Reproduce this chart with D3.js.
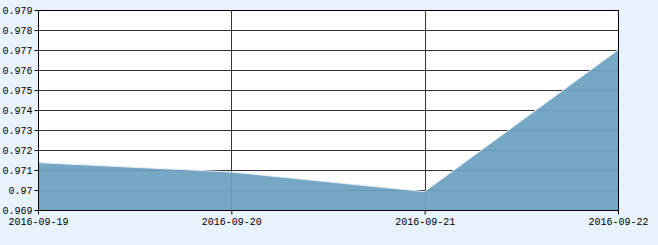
<!DOCTYPE html>
<html>
<head>
<meta charset="utf-8">
<script src="https://cdn.jsdelivr.net/npm/d3@7"></script>
<style>
  body { margin: 0; background: #e7f2fc; }
  svg text { font-family: "Liberation Mono", "DejaVu Sans Mono", monospace; font-size: 10px; fill: #000; }
</style>
</head>
<body>
<script>
const dates = ["2016-09-19", "2016-09-20", "2016-09-21", "2016-09-22"];
const values = [0.97137, 0.9709, 0.96992, 0.977];
const yTicks = [0.969, 0.97, 0.971, 0.972, 0.973, 0.974, 0.975, 0.976, 0.977, 0.978, 0.979];

ShowAreaChart();

function ShowAreaChart() {
    const width = 658;
    const height = 245;
    const margin = {top: 10, right: 40, bottom: 35, left: 38};
    const inner_w = width - margin.left - margin.right;
    const inner_h = height - margin.top - margin.bottom;

    const data = dates.map( (d, i) => ({date: d, value: values[i]}) );

    const svg = d3.select("body").append("svg")
        .attr("width", width)
        .attr("height", height);

    const g = svg.append("g")
        .attr("transform", `translate(${margin.left}, ${margin.top})`);

    const xscale = d3.scalePoint()
        .domain(dates)
        .range([0, inner_w]);

    const yscale = d3.scaleLinear()
        .domain([0.969, 0.979])
        .range([inner_h, 0]);

    // plot background
    g.append("rect")
        .attr("width", inner_w)
        .attr("height", inner_h)
        .attr("fill", "#fff");

    // grid lines
    g.selectAll(".hgrid")
        .data(yTicks)
        .enter()
        .append("line")
        .attr("x1", 0).attr("x2", inner_w)
        .attr("y1", d => Math.round(yscale(d)) + 0.5)
        .attr("y2", d => Math.round(yscale(d)) + 0.5)
        .attr("stroke", "#333");

    g.selectAll(".vgrid")
        .data(dates)
        .enter()
        .append("line")
        .attr("x1", d => Math.round(xscale(d)) + 0.5)
        .attr("x2", d => Math.round(xscale(d)) + 0.5)
        .attr("y1", 0).attr("y2", inner_h)
        .attr("stroke", "#333");

    // area
    const area = d3.area()
        .x(d => xscale(d.date))
        .y0(inner_h)
        .y1(d => yscale(d.value));

    g.append("path")
        .datum(data)
        .attr("d", area)
        .attr("fill", "#6aa1c1")
        .attr("fill-opacity", 0.92);

    g.append("path")
        .datum(data)
        .attr("d", d3.line().x(d => xscale(d.date)).y(d => yscale(d.value)))
        .attr("fill", "none")
        .attr("stroke", "#e8f0f6")
        .attr("stroke-width", 1);

    // frame
    g.append("rect")
        .attr("x", 0.5).attr("y", 0.5)
        .attr("width", inner_w).attr("height", inner_h)
        .attr("fill", "none")
        .attr("stroke", "#000");

    // axes
    const yaxis = d3.axisLeft(yscale)
        .tickValues(yTicks)
        .tickFormat(d => String(d))
        .tickSize(4)
        .tickPadding(2);

    const ya = g.append("g")
        .attr("transform", "translate(0.5, 0)")
        .call(yaxis);
    ya.select(".domain").remove();

    const xaxis = d3.axisBottom(xscale)
        .tickSize(4)
        .tickPadding(3);

    const xa = g.append("g")
        .attr("transform", `translate(0, ${inner_h + 0.5})`)
        .call(xaxis);
    xa.select(".domain").remove();

    svg.selectAll(".tick line").attr("stroke", "#000");
    svg.selectAll(".tick text").attr("font-family", null).attr("font-size", null);
}
</script>
</body>
</html>
